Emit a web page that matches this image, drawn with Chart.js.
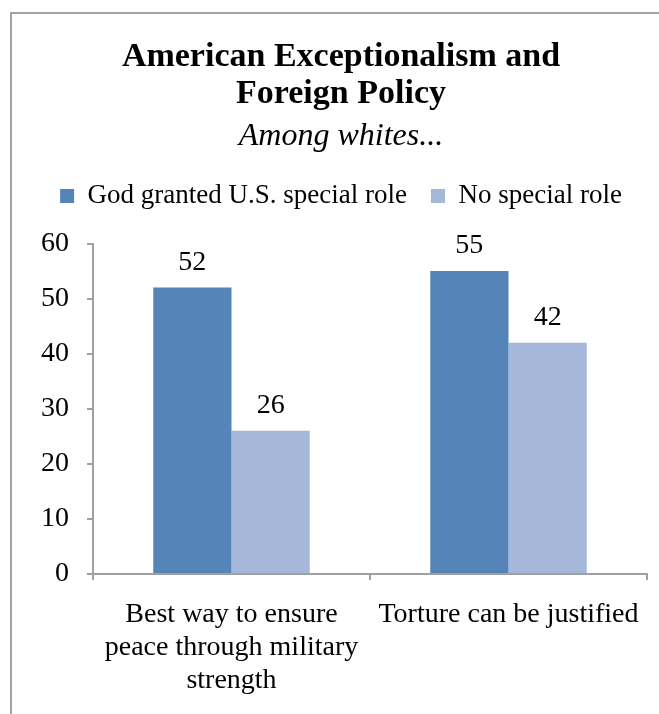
<!DOCTYPE html>
<html>
<head>
<meta charset="utf-8">
<script src="https://cdn.jsdelivr.net/npm/chart.js@4/dist/chart.umd.min.js"></script>
<style>
  html, body { margin: 0; padding: 0; background: #fff; }
  #wrap { position: relative; width: 659px; height: 714px; overflow: hidden; }
  #frame {
    position: absolute; left: 10px; top: 12px; width: 700px; height: 760px;
    border-left: 2px solid #a3a3a3; border-top: 2px solid #a3a3a3;
  }
  canvas { position: absolute; left: 0; top: 0; }
</style>
</head>
<body>
<div id="wrap">
  <div id="frame"></div>
  <canvas id="chart" width="682" height="716"></canvas>
</div>
<script>
const categories = [
  ["Best way to ensure", "peace through military", "strength"],
  "Torture can be justified"
]
const seriesNames = ["God granted U.S. special role", "No special role"]
const specialRole = [52, 55]
const noSpecialRole = [26, 42]
const yTicks = [0, 10, 20, 30, 40, 50, 60]

const FONT = "'Liberation Serif', 'Times New Roman', serif"

// empty layout boxes: one under the legend, one right of the plot
function spacer(position, size) {
  return {
    position, weight: 0, fullSize: false, options: {},
    top: 0, left: 0, right: 0, bottom: 0, width: 0, height: 0,
    update(maxWidth, maxHeight) {
      if (this.isHorizontal()) { this.width = maxWidth; this.height = size }
      else { this.width = size; this.height = maxHeight }
    },
    isHorizontal() { return position === "top" || position === "bottom" },
    draw() {}
  }
}
const gaps = {
  id: "gaps",
  beforeInit(chart) {
    Chart.layouts.addBox(chart, spacer("top", 24))
    Chart.layouts.addBox(chart, spacer("right", 23))
  }
}

// value labels sitting above each bar
const barValues = {
  id: "barValues",
  afterDatasetsDraw(chart) {
    const ctx = chart.ctx
    ctx.save()
    ctx.font = "28px " + FONT
    ctx.fillStyle = "#000"
    ctx.textAlign = "center"
    ctx.textBaseline = "middle"
    chart.data.datasets.forEach((ds, i) => {
      chart.getDatasetMeta(i).data.forEach((bar, j) => {
        ctx.fillText(ds.data[j], bar.x, bar.y - 25)
      })
    })
    ctx.restore()
  }
}

new Chart(document.getElementById("chart"), {
  type: "bar",
  data: {
    labels: categories,
    datasets: [
      {label: seriesNames[0], data: specialRole, backgroundColor: "#5585b8"},
      {label: seriesNames[1], data: noSpecialRole, backgroundColor: "#a5b8da"}
    ]
  },
  options: {
    responsive: false,
    animation: false,
    datasets: {bar: {barPercentage: 1, categoryPercentage: 0.565}},
    layout: {padding: {left: 12, right: 12, top: 0, bottom: 1}},
    plugins: {
      title: {
        display: true,
        text: ["American Exceptionalism and", "Foreign Policy"],
        color: "#000",
        font: {family: FONT, size: 34, weight: "bold", lineHeight: 1.09},
        padding: {top: 39, bottom: 4}
      },
      subtitle: {
        display: true,
        text: "Among whites...",
        color: "#000",
        font: {family: FONT, size: 32, style: "italic", lineHeight: 1.2},
        padding: {top: 0, bottom: 3}
      },
      legend: {
        labels: {
          color: "#000",
          font: {family: FONT, size: 27},
          boxWidth: 14, boxHeight: 14, padding: 24
        }
      },
      tooltip: {enabled: false}
    },
    scales: {
      x: {
        grid: {display: true, drawOnChartArea: false, drawTicks: true, tickLength: 6, color: "#a0a0a0", lineWidth: 2},
        border: {color: "#a0a0a0", width: 2},
        ticks: {color: "#000", font: {family: FONT, size: 28, lineHeight: 1.18}, padding: 18, maxRotation: 0, autoSkip: false}
      },
      y: {
        min: 0, max: 60,
        afterBuildTicks(scale) { scale.ticks = yTicks.map(v => ({value: v})) },
        afterFit(scale) { scale.width = 81 },
        grid: {display: true, drawOnChartArea: false, drawTicks: true, tickLength: 6, color: "#a0a0a0", lineWidth: 2},
        border: {color: "#a0a0a0", width: 2},
        ticks: {color: "#000", font: {family: FONT, size: 28}, padding: 18}
      }
    }
  },
  plugins: [gaps, barValues]
})
</script>
</body>
</html>
